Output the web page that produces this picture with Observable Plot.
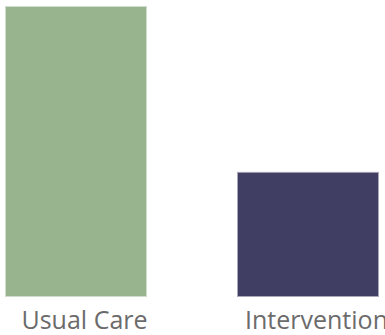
<!DOCTYPE html>
<html>
<head>
<meta charset="utf-8">
<script src="https://cdn.jsdelivr.net/npm/d3@7"></script>
<script src="https://cdn.jsdelivr.net/npm/@observablehq/plot@0.6"></script>
<style>
  html, body { margin: 0; padding: 0; background: #fff; }
  #chart svg { display: block; overflow: visible; }
</style>
</head>
<body>
<div id="chart"></div>
<script>
const categories = ["Usual Care", "Intervention"];
const values = [100, 43];
const colors = ["#97b48f", "#413e63"];

const data = categories.map((c, i) => ({ group: c, value: values[i] }));

const chart = Plot.plot({
  width: 385,
  height: 335,
  marginTop: 6,
  marginBottom: 38,
  marginLeft: 4,
  marginRight: 6,
  style: { background: "#fff", fontFamily: "'Open Sans', sans-serif" },
  x: { domain: categories, paddingInner: 0.39, paddingOuter: 0, axis: null },
  y: { domain: [0, 100], axis: null },
  color: { domain: categories, range: colors },
  marks: [
    Plot.barY(data, {
      x: "group", y: "value", fill: "group",
      stroke: "#ffffff", strokeOpacity: 0.55, strokeWidth: 2
    }),
    Plot.axisX({
      tickSize: 0, tickPadding: 14, fontSize: 25, dx: 8,
      label: null, color: "#6b6b6b", fill: "#6b6b6b"
    })
  ]
});
document.getElementById("chart").appendChild(chart);
</script>
</body>
</html>
